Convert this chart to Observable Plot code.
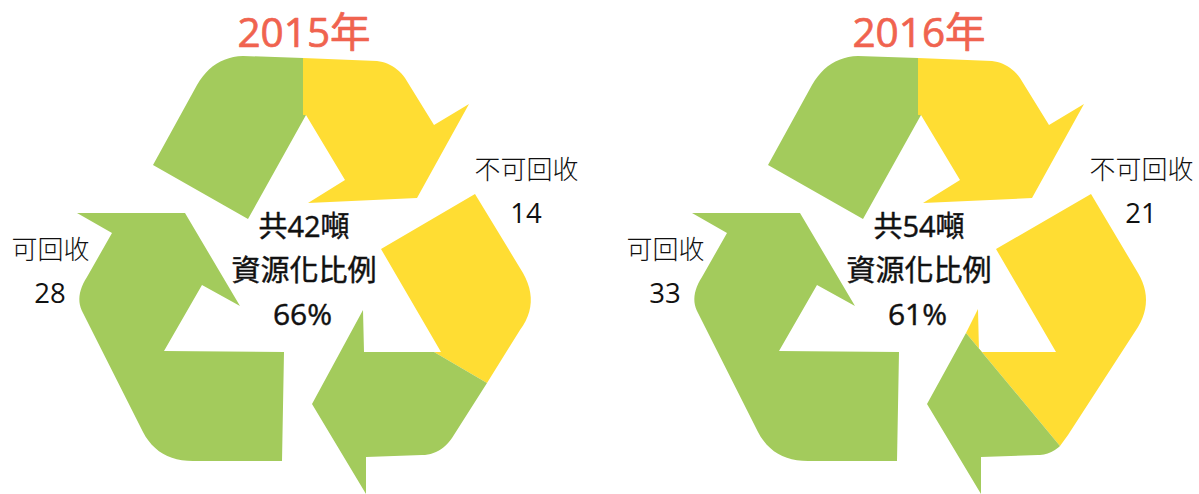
<!DOCTYPE html>
<html>
<head>
<meta charset="utf-8">
<style>html,body{margin:0;padding:0;background:#fff}svg{display:block}</style>
<script src="https://cdn.jsdelivr.net/npm/d3@7"></script>
<script src="https://cdn.jsdelivr.net/npm/@observablehq/plot@0.6"></script>
</head>
<body>
<div id="chart"></div>
<script>
const years = ["2015年", "2016年"];
const totals = [42, 54];
const recyclable = [28, 33];
const nonRecyclable = [14, 21];
const rates = [66, 61];

const GREEN = "#a3cb5c", YELLOW = "#ffdd33", RED = "#f0634f", INK = "#111";
const FONT = "'Open Sans','Noto Sans CJK TC',sans-serif";

// Pictogram outlines in chart units. A 4-item entry [cx,cy,x,y] is a rounded corner ending at x,y.
const topGreen = [[153,165],[197,85],[213,57,243,56],[303,58],[303,115],[306,115],[248,219]];
const topYellow = [[303,58],[377,61],[394,63,405,78],[434,125],[469,104],[417,198],[308,203],[345,180],[306,115],[303,115]];
const leftGreen = [[77,213],[185,213],[240,306],[202,285],[164,351],[284,352],[282,461],[193,461],[158,461,143,432],[83,313],[74,297,87,277],[112,233]];
const rightYellow2015 = [[475,194],[523,273],[540,303,520,330],[487,383],[434,352],[441,352],[381,249]];
const rightGreen2015 = [[487,383],[452,438],[440,455,422,455],[366,457],[366,494],[312,404],[363,310],[364,352],[434,352]];
const rightYellow2016 = [[476,194],[523,273],[539,300,523,327],[453,435],[445,446],[351,333],[363,309],[364,352],[441,352],[381,249]];
const rightGreen2016 = [[351,333],[445,446],[435,455,423,455],[366,457],[366,494],[312,404]];

function sample(outline, dx) {
  const pts = [];
  outline.forEach((p) => {
    if (p.length === 2) pts.push({x: p[0] + dx, y: p[1]});
    else {
      const a = pts[pts.length - 1];
      const [cx, cy, ex, ey] = [p[0] + dx, p[1], p[2] + dx, p[3]];
      for (let i = 1; i <= 12; i++) {
        const t = i / 12, u = 1 - t;
        pts.push({x: u*u*a.x + 2*u*t*cx + t*t*ex, y: u*u*a.y + 2*u*t*cy + t*t*ey});
      }
    }
  });
  return pts;
}
const shape = (outline, dx, fill) =>
  Plot.line(sample(outline, dx), {x: "x", y: "y", fill, stroke: "none", curve: "linear-closed"});

const text = (s, x, y, fontSize, fill, fontWeight, strokeWidth) =>
  Plot.text([s], {x: () => x, y: () => y, text: (d) => d, fontSize, fill, fontFamily: FONT, fontWeight: fontWeight || 400, lineAnchor: "middle",
    stroke: strokeWidth ? fill : "none", strokeWidth: strokeWidth || 0});

const OFFSET = 615;
const marks = [];
years.forEach((year, i) => {
  const dx = i * OFFSET;
  marks.push(
    shape(topGreen, dx, GREEN),
    shape(topYellow, dx, YELLOW),
    shape(leftGreen, dx, GREEN),
    shape(i ? rightYellow2016 : rightYellow2015, dx, YELLOW),
    shape(i ? rightGreen2016 : rightGreen2015, dx, GREEN),
    text(year, 304 + dx, 34, 40.5, RED, 400, 0.7),
    text(`共${totals[i]}噸`, 304 + dx, 228, 29, INK, 400, 0.45),
    text("資源化比例", 304 + dx, 272, 29, INK, 400, 0.45),
    text(`${rates[i]}%`, 302.5 + dx, 315, 30, INK, 400, 0.45),
    text("不可回收", 526.5 + dx, 171, 26, INK, 300),
    text(String(nonRecyclable[i]), 526 + dx, 214, 27.5, INK, 400),
    text("可回收", 50.5 + dx, 251, 26, INK, 300),
    text(String(recyclable[i]), 50 + dx, 294, 27.5, INK, 400)
  );
});

document.getElementById("chart").append(Plot.plot({
  width: 1199,
  height: 494,
  margin: 0,
  x: {domain: [0, 1199], range: [-0.5, 1198.5], axis: null},
  y: {domain: [0, 494], range: [-0.5, 493.5], axis: null},
  marks
}));
</script>
</body>
</html>
